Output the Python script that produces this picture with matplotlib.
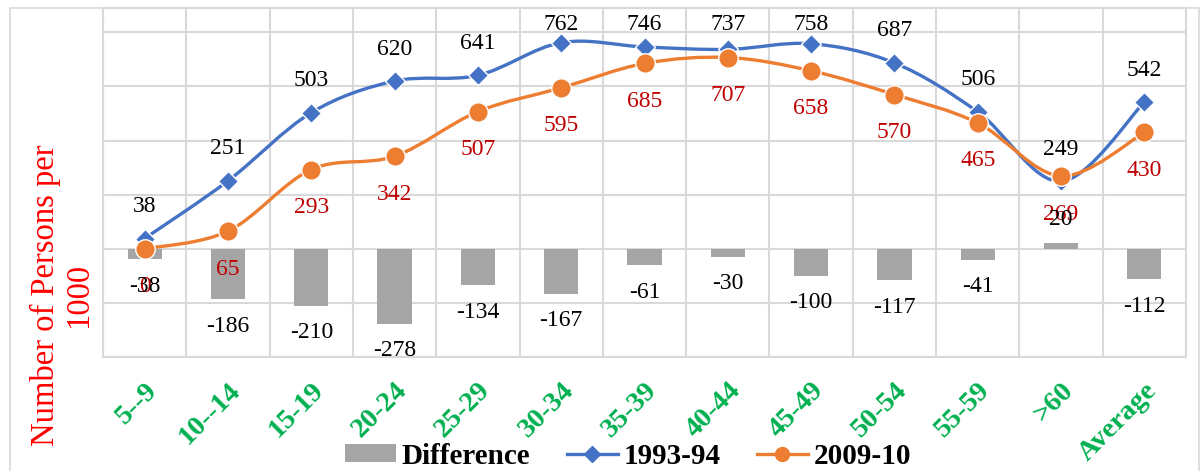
import numpy as np
import matplotlib
matplotlib.use("Agg")
import matplotlib.pyplot as plt
from matplotlib.path import Path
from matplotlib.patches import PathPatch, Patch, Rectangle
from matplotlib.lines import Line2D

plt.rcParams["font.family"] = ["Liberation Serif", "DejaVu Serif"]

# Data
age_groups = ["5--9", "10--14", "15-19", "20-24", "25-29", "30-34", "35-39",
              "40-44", "45-49", "50-54", "55-59", ">60", "Average"]
rate_1993 = [38, 251, 503, 620, 641, 762, 746, 737, 758, 687, 506, 249, 542]
rate_2009 = [0, 65, 293, 342, 507, 595, 685, 707, 658, 570, 465, 269, 430]
difference = [-38, -186, -210, -278, -134, -167, -61, -30, -100, -117, -41, 20, -112]

BLUE = "#4472C4"
ORANGE = "#ED7D31"
GRAY = "#A5A5A5"
GRID = "#D9D9D9"
GREEN = "#00B050"
DARKRED = "#C00000"

W, H = 1203, 471


def smooth_path(x, y):
    """Excel-style smoothed line as cubic Bezier segments through the points."""
    pts = np.column_stack([x, y]).astype(float)
    n = len(pts)
    verts = [pts[0]]
    codes = [Path.MOVETO]
    for i in range(n - 1):
        p0, p3 = pts[i], pts[i + 1]
        prev = pts[i - 1] if i > 0 else p0
        nxt = pts[i + 2] if i + 2 < n else p3
        c1 = p0 + (p3 - prev) / 6.0
        c2 = p3 - (nxt - p0) / 6.0
        verts += [c1, c2, p3]
        codes += [Path.CURVE4] * 3
    return Path(verts, codes)


fig = plt.figure(figsize=(W / 100, H / 100), dpi=100)
ax = fig.add_axes([103 / W, 1 - 357 / H, (1186 - 103) / W, (357 - 8) / H])

# outer chart border
fig.patches.append(Rectangle((10 / W, -0.01), (1199 - 10) / W, 1 - 8 / H + 0.01,
                             transform=fig.transFigure, fill=False,
                             edgecolor=GRID, linewidth=1.2, zorder=0))

x = np.arange(len(age_groups))
ax.set_xlim(-0.5, len(age_groups) - 0.5)
ax.set_ylim(-400, 890)

ax.bar(x, difference, width=0.41, color=GRAY, zorder=2)

for vals, color, marker, ms in [(rate_1993, BLUE, "D", 10),
                                (rate_2009, ORANGE, "o", 14)]:
    ax.add_patch(PathPatch(smooth_path(x, vals), fill=False, edgecolor=color,
                           linewidth=2.4, zorder=3, capstyle="round"))
    ax.plot(x, vals, linestyle="none", marker=marker, markersize=ms,
            color=color, markeredgecolor="white", markeredgewidth=1.0, zorder=4)

lab_kw = dict(textcoords="offset pixels", ha="center", va="center", fontsize=17, zorder=5)
top_limit = H - 25  # labels kept inside the chart area, like Excel does
for xi, v in zip(x, rate_1993):
    ypx = ax.transData.transform((xi, v))[1]
    off = min(32, top_limit - ypx)
    ax.annotate(str(v), (xi, v), xytext=(0, off), color="black", **lab_kw)
for xi, v in zip(x, rate_2009):
    ax.annotate(str(v), (xi, v), xytext=(0, -38), color=DARKRED, **lab_kw)
for xi, v in zip(x, difference):
    off = -27 if v < 0 else 24
    ax.annotate(str(v), (xi, v), xytext=(0, off), color="black", **lab_kw)

ax.set_yticks(np.arange(-400, 801, 200))
ax.set_yticklabels([])
ax.tick_params(axis="y", length=0)
ax.set_xticks(np.arange(-0.5, len(age_groups), 1.0), minor=False)
ax.set_xticklabels([])
ax.tick_params(axis="x", length=0)
ax.set_xticks(x, minor=True)
ax.set_xticklabels(age_groups, minor=True, rotation=45, ha="right",
                   rotation_mode="anchor", fontsize=20.5, fontweight="bold",
                   color=GREEN)
ax.tick_params(axis="x", which="minor", length=0, pad=15)
ax.grid(True, which="major", color=GRID, linewidth=1.5, zorder=0)
ax.set_axisbelow(True)
for s in ax.spines.values():
    s.set_color(GRID)
    s.set_linewidth(1.5)

fig.text(62 / W, 1 - 295 / H, "Number of Persons per\n1000", rotation=90,
         ha="center", va="center", multialignment="center", color="red",
         fontsize=23.5, linespacing=1.1)

handles = [Patch(facecolor=GRAY, edgecolor="none"),
           Line2D([], [], color=BLUE, linewidth=2.4, marker="D", markersize=8),
           Line2D([], [], color=ORANGE, linewidth=2.4, marker="o", markersize=10)]
fig.legend(handles, ["Difference", "1993-94", "2009-10"], ncol=3,
           loc="center", bbox_to_anchor=(628 / W, 1 - 456 / H),
           frameon=False, prop=dict(weight="bold", size=21),
           handlelength=1.75, handleheight=0.55, handletextpad=0.2,
           columnspacing=1.25, borderpad=0.1)

fig.savefig("out.png", dpi=100)
